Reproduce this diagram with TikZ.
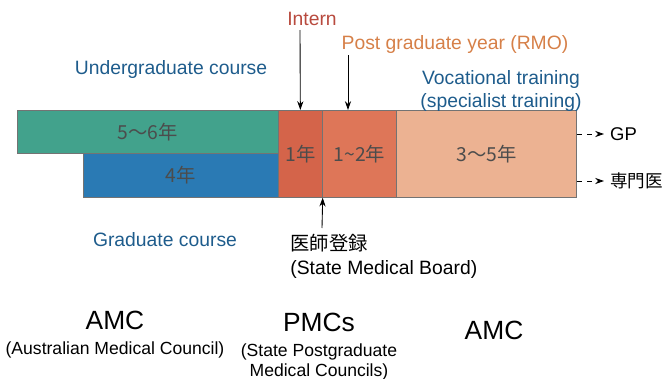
\documentclass[tikz,border=0pt]{standalone}
\usepackage{fontspec}
\setmainfont{Liberation Sans}
\newfontfamily\cjk{Noto Sans CJK JP}
\usetikzlibrary{positioning, shapes, arrows.meta}

\definecolor{ugteal}{RGB}{66,162,140}
\definecolor{gradblue}{RGB}{42,122,180}
\definecolor{internred}{RGB}{212,100,74}
\definecolor{pgyred}{RGB}{222,118,88}
\definecolor{vocpeach}{RGB}{236,178,146}
\definecolor{labelblue}{RGB}{30,92,140}
\definecolor{labelred}{RGB}{184,74,62}
\definecolor{labelorange}{RGB}{214,128,72}

\begin{document}
\begin{tikzpicture}[x=0.02cm, y=-0.02cm,
    period/.style={draw=black!55, line width=0.4pt, anchor=north west, inner sep=0pt,
      text=black!70, font=\cjk\fontsize{11}{13}\selectfont},
    caption/.style={font=\fontsize{11}{13.5}\selectfont, align=center},
    pointer/.style={-{Stealth[length=5pt, width=3.5pt]}, line width=0.5pt}]

    \useasboundingbox (0,0) rectangle (667,379);

    % Study periods
    \node[period, fill=ugteal, minimum width=5.22cm, minimum height=0.86cm]
    (undergrad) at (17,110) {5～6年};

    \node[period, fill=gradblue, minimum width=3.9cm, minimum height=0.88cm]
    (grad) at (83,153) {4年};

    \node[period, fill=internred, minimum width=0.88cm, minimum height=1.74cm]
    (intern) at (278,110) {1年};

    \node[period, fill=pgyred, minimum width=1.48cm, minimum height=1.74cm]
    (pgy) at (322,110) {1\textasciitilde2年};

    \node[period, fill=vocpeach, minimum width=3.6cm, minimum height=1.74cm]
    (voc) at (396,110) {3～5年};

    % Course labels
    \node[caption, text=labelblue] (undergradLabel) at (171,70) {Undergraduate course};
    \node[caption, text=labelblue] (gradLabel) at (165,240) {Graduate course};
    \node[caption, text=labelred] (internLabel) at (312,19) {Intern};
    \node[caption, text=labelorange] (pgyLabel) at (455,45) {Post graduate year (RMO)};
    \node[caption, text=labelblue, inner sep=0pt] (vocLabel) at (501,91)
    {Vocational training\\(specialist training)};

    % Pointers to the periods
    \coordinate (internTop) at (300,30);
    \draw[pointer] (internTop) -- (intern.north);
    \coordinate (pgyTop) at (348,55);
    \draw[pointer] (pgyTop) -- (pgyTop |- pgy.north);

    \node[caption, align=left, anchor=north west, inner sep=0pt] (register) at (290,234)
    {{\cjk 医師登録}\\(State Medical Board)};
    \coordinate (registerTail) at (322,228);
    \draw[pointer] (registerTail) -- (intern.south east);

    % Outcomes
    \node[caption, anchor=west, font=\fontsize{10.5}{13}\selectfont] (gp) at (604,134) {GP};
    \node[caption, anchor=west, font=\cjk\fontsize{10}{12}\selectfont] (specialist) at (604,181) {専門医};
    \draw[pointer, dashed] (gp.west -| voc.east) -- (gp.west);
    \draw[pointer, dashed] (specialist.west -| voc.east) -- (specialist.west);

    % Councils
    \node[font=\fontsize{15}{18}\selectfont] (amcLeft) at (115,320) {AMC};
    \node[font=\fontsize{10}{12}\selectfont, below=0pt of amcLeft] (amcLeftName)
    {(Australian Medical Council)};

    \node[font=\fontsize{15}{18}\selectfont] (pmc) at (319,322) {PMCs};
    \node[font=\fontsize{10}{11.5}\selectfont, align=center, below=0pt of pmc] (pmcName)
    {(State Postgraduate\\Medical Councils)};

    \node[font=\fontsize{15}{18}\selectfont] (amcRight) at (494,330) {AMC};

\end{tikzpicture}
\end{document}
